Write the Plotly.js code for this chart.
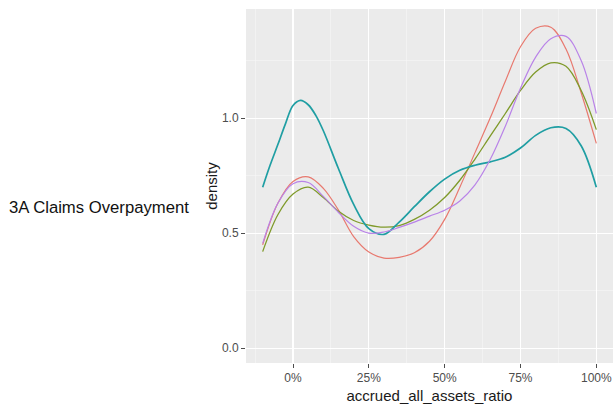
<!DOCTYPE html>
<html>
<head>
<meta charset="utf-8">
<script src="https://cdn.plot.ly/plotly-3.0.1.min.js"></script>
<style>
html,body{margin:0;padding:0;background:#fff;}
#chart{width:613px;height:405px;}
</style>
</head>
<body>
<div id="chart"></div>
<script>
// accrued_all_assets_ratio grid (x) and density values
const ratio = [-0.1,-0.05,0,0.05,0.1,0.15,0.2,0.25,0.3,0.35,0.4,0.45,0.5,0.55,0.6,0.65,0.7,0.75,0.8,0.85,0.9,0.95,1.0];
const densityRed    = [0.449,0.63,0.725,0.745,0.695,0.60,0.485,0.418,0.392,0.395,0.415,0.465,0.56,0.70,0.85,1.0,1.16,1.31,1.39,1.395,1.30,1.11,0.89];
const densityOlive  = [0.42,0.58,0.67,0.70,0.655,0.595,0.555,0.535,0.526,0.533,0.56,0.60,0.655,0.73,0.822,0.922,1.02,1.12,1.20,1.24,1.225,1.12,0.95];
const densityPurple = [0.456,0.63,0.715,0.72,0.66,0.59,0.53,0.50,0.505,0.525,0.548,0.574,0.60,0.64,0.71,0.82,0.965,1.13,1.265,1.345,1.355,1.25,1.02];
// teal series read on a finer grid around its left peak
const ratioTeal   = [-0.1,-0.075,-0.05,-0.025,0,0.025,0.05,0.075,0.1,0.15,0.2,0.25,0.3,0.35,0.4,0.45,0.5,0.55,0.6,0.65,0.7,0.75,0.8,0.85,0.9,0.95,1.0];
const densityTeal = [0.70,0.797,0.885,0.975,1.055,1.077,1.058,1.012,0.945,0.78,0.625,0.52,0.495,0.548,0.615,0.68,0.735,0.773,0.795,0.81,0.83,0.87,0.925,0.958,0.955,0.88,0.70];
const xTicks = [0,0.25,0.5,0.75,1.0];
const xTickText = ["0%","25%","50%","75%","100%"];
const yTicks = [0,0.5,1.0];
const yTickText = ["0.0","0.5","1.0"];
const rowLabel = "3A Claims Overpayment";

const series = [
  {x: ratio, y: densityRed, color: "#e8796f", w: 1.2},
  {x: ratio, y: densityOlive, color: "#7f9a2a", w: 1.3},
  {x: ratioTeal, y: densityTeal, color: "#1f9ea3", w: 1.7},
  {x: ratio, y: densityPurple, color: "#b983e8", w: 1.2}
];
const traces = series.map(s => ({
  x: s.x, y: s.y, type: "scatter", mode: "lines",
  line: {color: s.color, width: s.w, shape: "spline", smoothing: 1},
  showlegend: false, hoverinfo: "skip"
}));

const layout = {
  width: 613, height: 405,
  paper_bgcolor: "#ffffff",
  plot_bgcolor: "#ebebeb",
  margin: {l: 246, r: 0, t: 9, b: 42},
  font: {family: "Liberation Sans, Arial, sans-serif", color: "#4d4d4d", size: 12},
  xaxis: {
    range: [-0.155, 1.055],
    tickvals: xTicks, ticktext: xTickText,
    ticks: "outside", ticklen: 4, tickwidth: 1, tickcolor: "#4d4d4d",
    showgrid: true, gridcolor: "#ffffff", gridwidth: 1.2,
    zeroline: false, showline: false,
    minor: {tickvals: [-0.125,0.125,0.375,0.625,0.875], showgrid: true, gridcolor: "#f6f6f6", gridwidth: 0.6, ticks: ""},
    tickfont: {size: 12, color: "#4d4d4d"},
    title: {text: "accrued_all_assets_ratio", font: {size: 15, color: "#1a1a1a"}, standoff: 6}
  },
  yaxis: {
    range: [-0.064, 1.474],
    tickvals: yTicks, ticktext: yTickText,
    ticks: "outside", ticklen: 4, tickwidth: 1, tickcolor: "#4d4d4d",
    showgrid: true, gridcolor: "#ffffff", gridwidth: 1.2,
    zeroline: false, showline: false,
    minor: {tickvals: [0.25,0.75,1.25], showgrid: true, gridcolor: "#f6f6f6", gridwidth: 0.6, ticks: ""},
    tickfont: {size: 12, color: "#4d4d4d"},
    title: {text: "density", font: {size: 15, color: "#1a1a1a"}, standoff: 0}
  },
  annotations: [{
    text: rowLabel, xref: "paper", yref: "paper",
    x: -0.652, y: 0.44, xanchor: "left", yanchor: "middle", showarrow: false,
    font: {size: 16.7, color: "#111111", family: "Liberation Sans, Arial, sans-serif"}
  }]
};

Plotly.newPlot("chart", traces, layout, {staticPlot: true, displayModeBar: false});
</script>
</body>
</html>
